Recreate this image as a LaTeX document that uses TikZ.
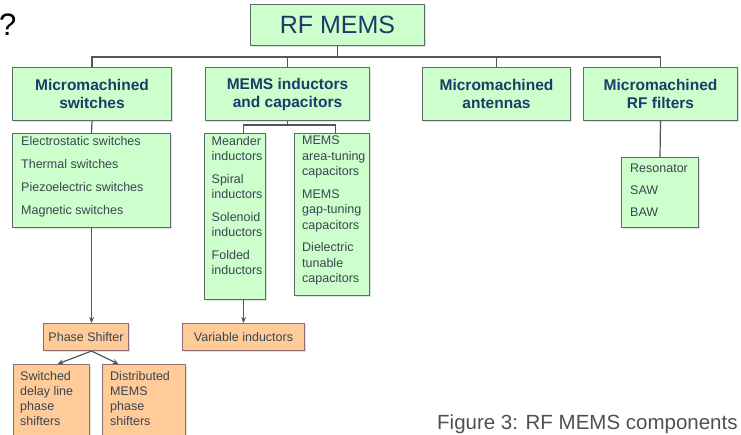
\documentclass[tikz,border=0pt]{standalone}
\usepackage{fontspec}
\setmainfont{Liberation Sans}
\usetikzlibrary{arrows.meta,shadows}
\definecolor{gfill}{HTML}{CCFFCC}
\definecolor{ofill}{HTML}{FFCC99}
\definecolor{gline}{HTML}{5F6B6B}
\definecolor{oline}{HTML}{8C6E6E}
\definecolor{headc}{HTML}{1F3A68}
\definecolor{bodyc}{HTML}{3A4552}
\definecolor{connc}{HTML}{555555}
\definecolor{capc}{HTML}{505050}
\tikzset{
  shad/.style={drop shadow={shadow xshift=1.5pt, shadow yshift=-1.5pt, opacity=0.25, fill=gray}},
  gbox/.style={draw=gline, fill=gfill, line width=1pt, shad, inner sep=0pt, anchor=north west},
  obox/.style={draw=oline, fill=ofill, line width=1pt, shad, inner sep=0pt, anchor=north west},
  head/.style={font=\bfseries\fontsize{15.5}{18}\selectfont, text=headc, align=center},
  body/.style={font=\fontsize{12.5}{15.5}\selectfont, text=bodyc, align=left, inner sep=0pt, anchor=north west},
  conn/.style={draw=connc, line width=1.2pt},
  arr/.style={conn, -{Stealth[length=6pt,width=5pt]}}
}
\begin{document}
\begin{tikzpicture}[x=1pt,y=-1pt]
\useasboundingbox (0,0) rectangle (741,434);
\clip (0,0) rectangle (741,434);

\node[anchor=base west, inner sep=0pt, font=\fontsize{31}{31}\selectfont] (q) at (-1,35) {?};

% top
\node[gbox, minimum width=174pt, minimum height=41pt, font=\fontsize{25}{28}\selectfont, text=headc] (rf) at (250,4) {RF MEMS};

% level 1
\node[gbox, head, minimum width=159pt, minimum height=53pt] (sw) at (12,67) {Micromachined\\switches};
\node[gbox, head, minimum width=164pt, minimum height=53pt] (ind) at (205,67) {MEMS inductors\\and capacitors};
\node[gbox, head, minimum width=148pt, minimum height=53pt] (an) at (422,67) {Micromachined\\antennas};
\node[gbox, head, minimum width=154pt, minimum height=53pt] (fi) at (583,67) {Micromachined\\RF filters};

% level 2 green lists
\node[gbox, minimum width=158pt, minimum height=94pt] (swl) at (12,133) {};
\node[body] (swlt) at (21,136) {Electrostatic switches\\[7.5pt]Thermal switches\\[7.5pt]Piezoelectric switches\\[7.5pt]Magnetic switches};

\node[gbox, minimum width=61pt, minimum height=166pt] (mea) at (204,133) {};
\node[body] (meat) at (211.5,136) {Meander\\inductors\\[7pt]Spiral\\inductors\\[7pt]Solenoid\\inductors\\[7pt]Folded\\inductors};

\node[gbox, minimum width=75pt, minimum height=162pt] (cap) at (294,133) {};
\node[body] (capt) at (302,136) {MEMS\\area-tuning\\capacitors\\[7pt]MEMS\\gap-tuning\\capacitors\\[7pt]Dielectric\\tunable\\capacitors};

\node[gbox, minimum width=77pt, minimum height=70pt] (res) at (621,157) {};
\node[body] (rest) at (630,164) {Resonator\\[6.5pt]SAW\\[6.5pt]BAW};

% orange boxes
\node[obox, minimum width=85pt, minimum height=27pt, font=\fontsize{12.5}{15}\selectfont, text=bodyc] (ps) at (43,323) {Phase Shifter};
\node[obox, minimum width=122pt, minimum height=27pt, font=\fontsize{12.5}{15}\selectfont, text=bodyc] (vi) at (182,323) {Variable inductors};

\node[obox, minimum width=76pt, minimum height=90pt] (sd) at (13,364) {};
\node[body, font=\fontsize{12.5}{15}\selectfont] (sdt) at (20,371) {Switched\\delay line\\phase\\shifters};
\node[obox, minimum width=83pt, minimum height=90pt] (dm) at (102,364) {};
\node[body, font=\fontsize{12.5}{15}\selectfont] (dmt) at (110,371) {Distributed\\MEMS\\phase\\shifters};

% caption
\node[anchor=base west, inner sep=0pt, font=\fontsize{20.5}{22}\selectfont, text=capc] (cap3) at (437,429) {Figure 3: RF MEMS components};

% connectors
\coordinate (bus) at (0,57);
\coordinate (ib) at (0,125);
\draw[conn] (rf.south) -- (rf.south |- bus);
\draw[conn] (sw.north) |- (bus -| fi.north) -- (fi.north);
\draw[conn] (ind.north) -- (ind.north |- bus);
\draw[conn] (an.north) -- (an.north |- bus);

\draw[conn] (sw.south) -- (swl.north);
\draw[conn] (ind.south) -- (ind.south |- ib);
\draw[conn] (mea.north -| vi.north) -- (vi.north |- ib) -- ([xshift=3.5pt]cap.north |- ib) -- ([xshift=3.5pt]cap.north);
\draw[conn] (fi.south) -- (res.north);

\draw[arr] (swl.south) -- (swl.south |- ps.north);
\draw[arr] (mea.south -| vi.north) -- (vi.north);
\draw[arr] (ps.south -| swl.south) -- ([xshift=6pt]sd.north);
\draw[arr] (ps.south -| swl.south) -- ([xshift=-25.5pt]dm.north);
\end{tikzpicture}
\end{document}
